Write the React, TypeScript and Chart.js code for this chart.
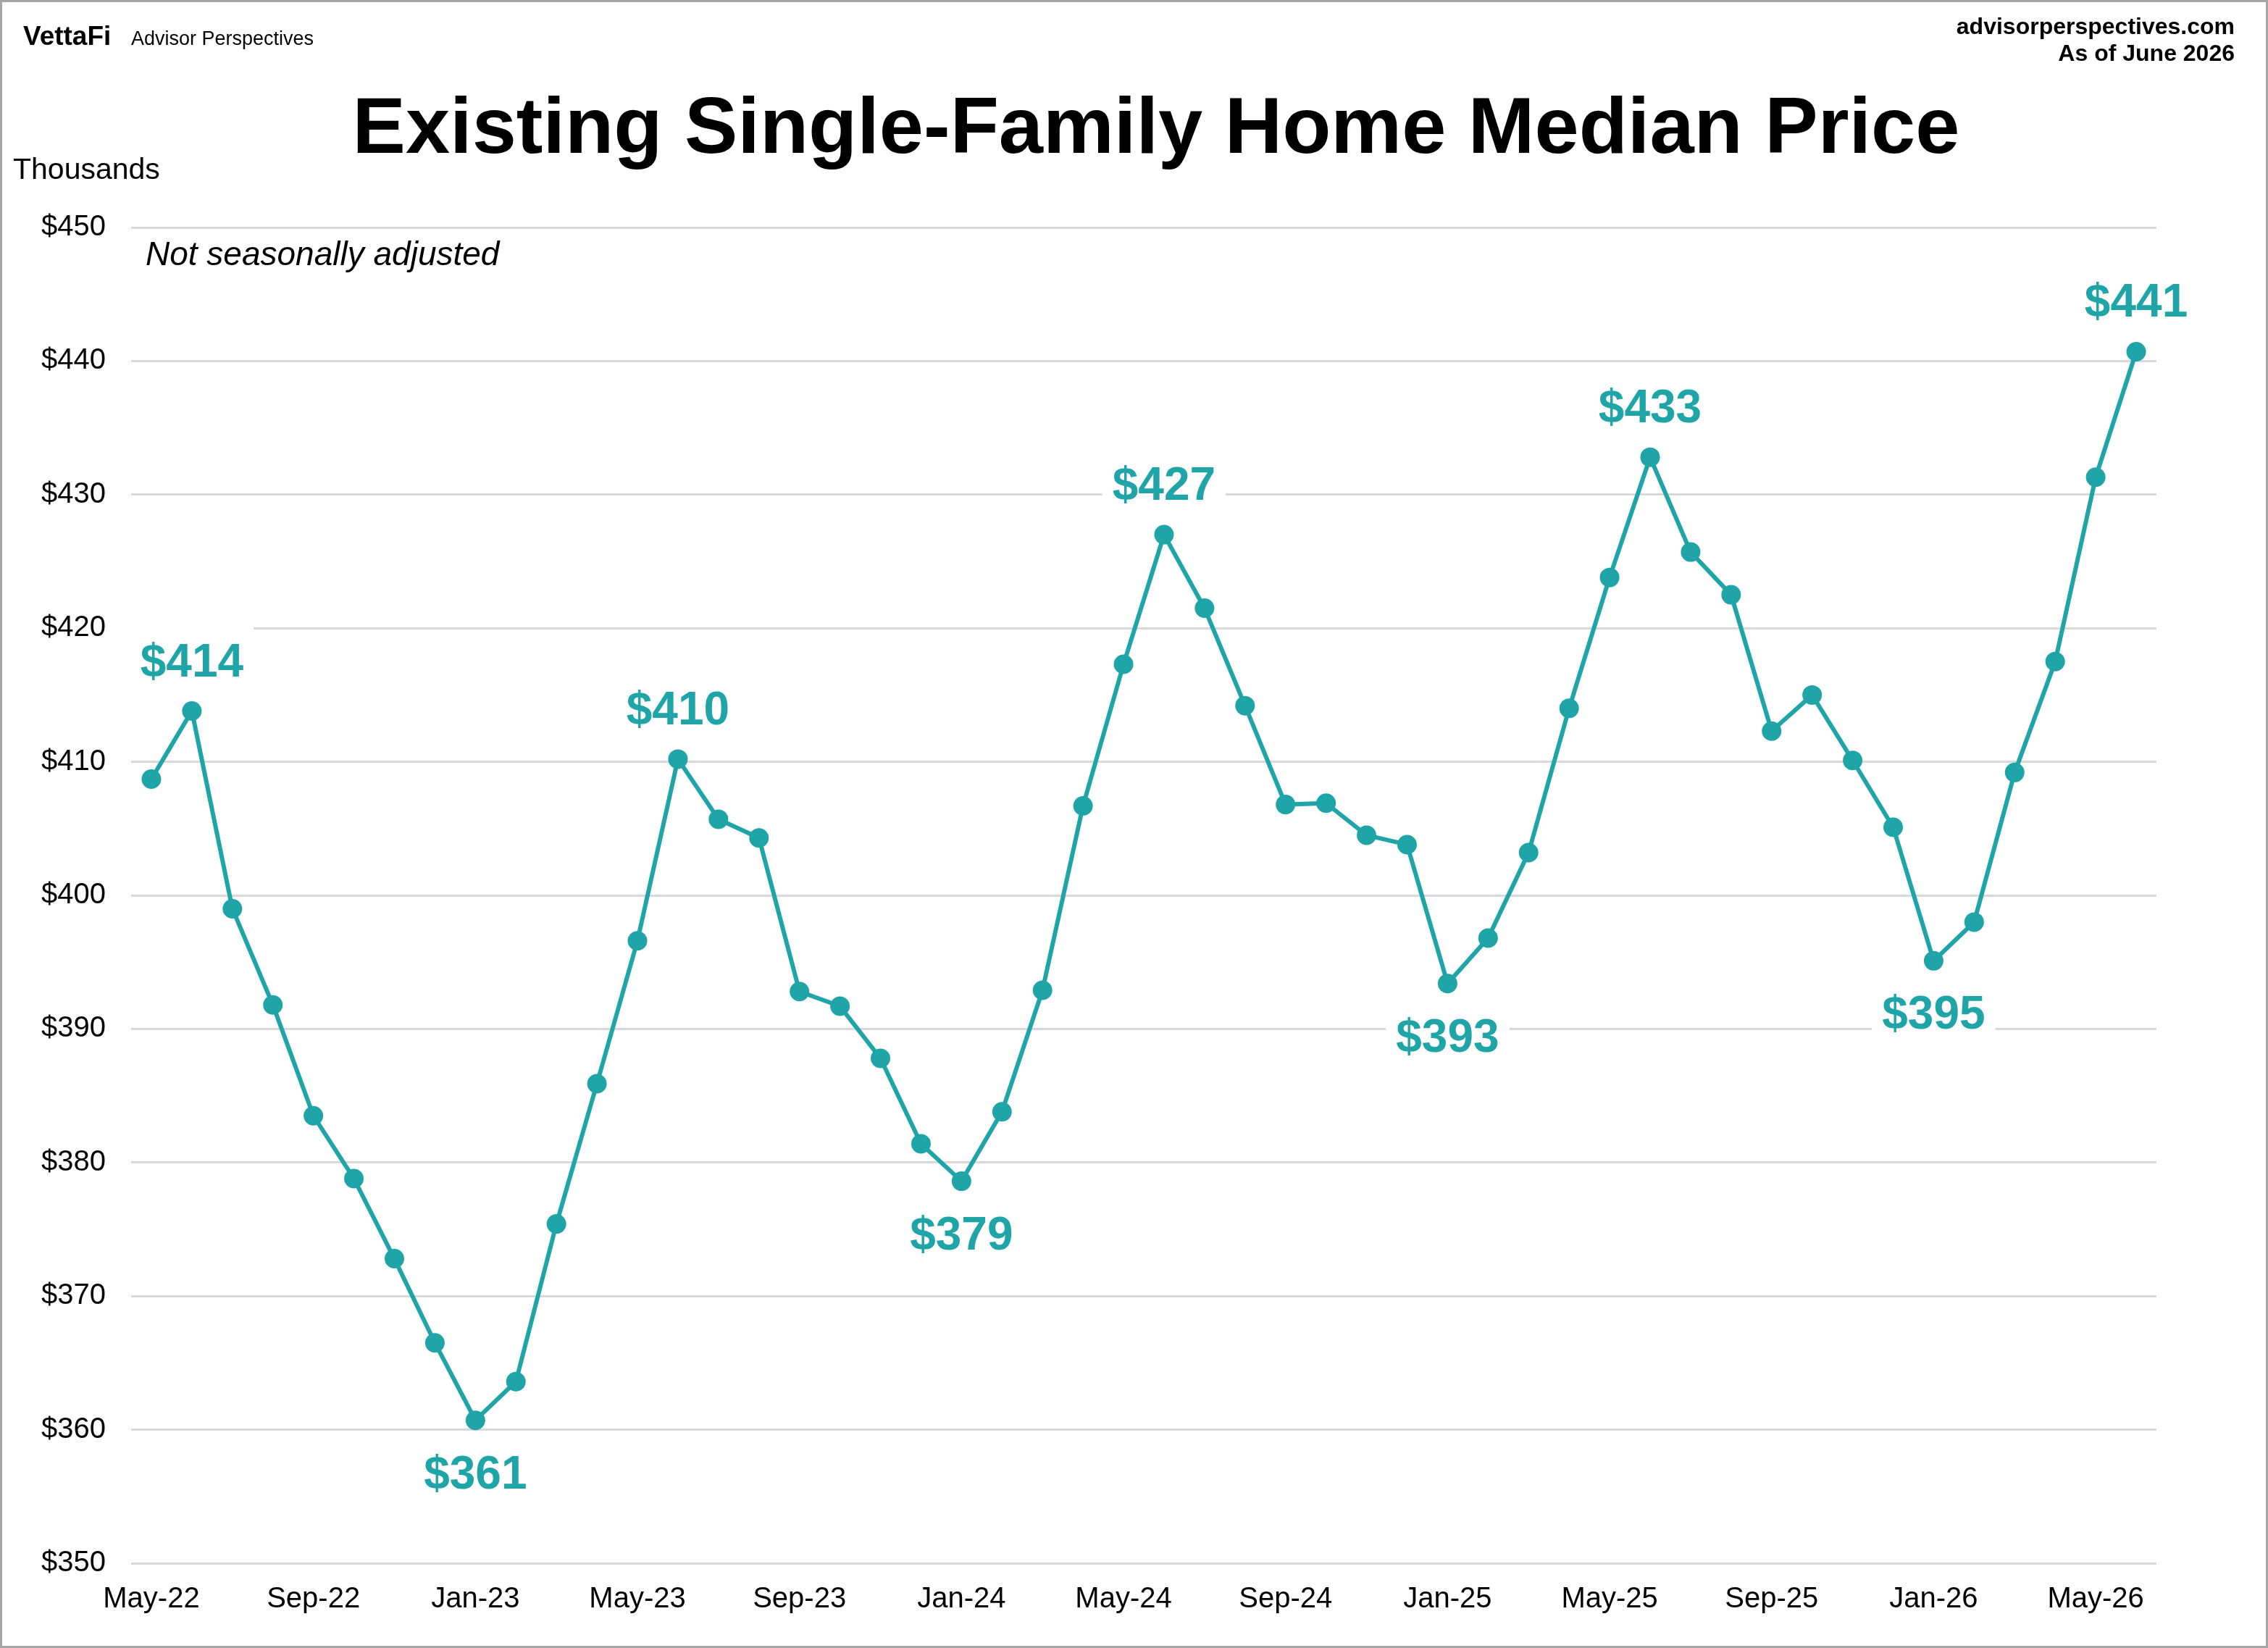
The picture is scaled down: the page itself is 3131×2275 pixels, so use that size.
import React, { useEffect, useRef } from "react";
import { Chart, registerables } from "chart.js";

Chart.register(...registerables);

const months = [
  "May-22", "Jun-22", "Jul-22", "Aug-22", "Sep-22", "Oct-22", "Nov-22", "Dec-22",
  "Jan-23", "Feb-23", "Mar-23", "Apr-23", "May-23", "Jun-23", "Jul-23", "Aug-23",
  "Sep-23", "Oct-23", "Nov-23", "Dec-23", "Jan-24", "Feb-24", "Mar-24", "Apr-24",
  "May-24", "Jun-24", "Jul-24", "Aug-24", "Sep-24", "Oct-24", "Nov-24", "Dec-24",
  "Jan-25", "Feb-25", "Mar-25", "Apr-25", "May-25", "Jun-25", "Jul-25", "Aug-25",
  "Sep-25", "Oct-25", "Nov-25", "Dec-25", "Jan-26", "Feb-26", "Mar-26", "Apr-26",
  "May-26", "Jun-26",
];

const prices = [
  408.7, 413.8, 399.0, 391.8, 383.5, 378.8, 372.8, 366.5,
  360.7, 363.6, 375.4, 385.9, 396.6, 410.2, 405.7, 404.3,
  392.8, 391.7, 387.8, 381.4, 378.6, 383.8, 392.9, 406.7,
  417.3, 427.0, 421.5, 414.2, 406.8, 406.9, 404.5, 403.8,
  393.4, 396.8, 403.2, 414.0, 423.8, 432.8, 425.7, 422.5,
  412.3, 415.0, 410.1, 405.1, 395.1, 398.0, 409.2, 417.5,
  431.3, 440.7,
];

const labeledIdx = [1, 8, 13, 20, 25, 32, 37, 44, 49];
const labeledSide = ["above", "below", "above", "below", "above", "below", "above", "below", "above"];

const yMin = 350;
const yMax = 450;
const yStep = 10;

const TEAL = "#1FA5A8";
const FONT = "'Liberation Sans', Arial, Helvetica, sans-serif";

export default function App() {
  const ref = useRef<HTMLCanvasElement>(null);

  useEffect(() => {
    const canvas = ref.current!;

    const textPlugin = {
      id: "texts",
      beforeDatasetsDraw(chart: any) {
        const ctx = chart.ctx;
        const xs = chart.scales.x;
        const ys = chart.scales.y;
        ctx.save();
        ctx.font = `bold 64px ${FONT}`;
        labeledIdx.forEach((i, k) => {
          const px = xs.getPixelForValue(i);
          const py = ys.getPixelForValue(prices[i]);
          const t = "$" + Math.round(prices[i]);
          const w = ctx.measureText(t).width;
          const base = labeledSide[k] === "above" ? py - 48 : py + 94;
          ctx.fillStyle = "#ffffff";
          ctx.fillRect(px - w / 2 - 14, base - 68, w + 28, 80);
        });
        ctx.restore();
      },
      afterDatasetsDraw(chart: any) {
        const ctx = chart.ctx;
        const xs = chart.scales.x;
        const ys = chart.scales.y;
        ctx.save();
        ctx.font = `bold 64px ${FONT}`;
        ctx.fillStyle = TEAL;
        ctx.textAlign = "center";
        ctx.textBaseline = "alphabetic";
        labeledIdx.forEach((i, k) => {
          const px = xs.getPixelForValue(i);
          const py = ys.getPixelForValue(prices[i]);
          const t = "$" + Math.round(prices[i]);
          const base = labeledSide[k] === "above" ? py - 48 : py + 94;
          ctx.fillText(t, px, base);
        });
        ctx.restore();
      },
      afterDraw(chart: any) {
        const ctx = chart.ctx;
        ctx.save();
        ctx.fillStyle = "#000";
        ctx.textBaseline = "alphabetic";
        ctx.textAlign = "center";
        ctx.font = `bold 110px ${FONT}`;
        ctx.fillText("Existing Single-Family Home Median Price", 1596, 211);

        ctx.textAlign = "left";
        ctx.font = `bold 37px ${FONT}`;
        ctx.fillText("VettaFi", 32, 62);
        ctx.font = `27px ${FONT}`;
        ctx.fillText("Advisor Perspectives", 181, 62);

        ctx.textAlign = "right";
        ctx.font = `bold 32px ${FONT}`;
        ctx.fillText("advisorperspectives.com", 3085, 47);
        ctx.fillText("As of June 2026", 3085, 84);

        ctx.textAlign = "left";
        ctx.font = `41px ${FONT}`;
        ctx.fillText("Thousands", 18, 247);
        ctx.font = `italic 46px ${FONT}`;
        ctx.fillText("Not seasonally adjusted", 201, 366);
        ctx.restore();
      },
    };

    const chart = new Chart(canvas, {
      type: "line",
      data: {
        labels: months,
        datasets: [
          {
            data: prices,
            borderColor: TEAL,
            backgroundColor: TEAL,
            borderWidth: 6,
            pointRadius: 13.5,
            pointBorderWidth: 0,
            pointBackgroundColor: TEAL,
            tension: 0,
          },
        ],
      },
      options: {
        responsive: false,
        animation: false,
        devicePixelRatio: 1,
        layout: { padding: { top: 314, left: 0, right: 154, bottom: 0 } },
        plugins: {
          legend: { display: false },
          tooltip: { enabled: false },
          title: { display: false },
        },
        scales: {
          x: {
            type: "category",
            offset: true,
            grid: { display: false, drawTicks: false },
            border: { display: false },
            ticks: {
              autoSkip: false,
              maxRotation: 0,
              minRotation: 0,
              padding: 26,
              color: "#000",
              font: { family: FONT, size: 40 },
              callback: (_v: any, i: number) => (i % 4 === 0 ? months[i] : ""),
            },
            afterFit: (s: any) => {
              s.height = 117;
            },
          },
          y: {
            min: yMin,
            max: yMax,
            grid: { color: "#D9D9D9", lineWidth: 3, drawTicks: false },
            border: { display: false },
            ticks: {
              stepSize: yStep,
              padding: 35,
              color: "#000",
              font: { family: FONT, size: 40 },
              callback: (v: any) => "$" + v,
            },
            afterFit: (s: any) => {
              s.width = 181;
            },
          },
        },
      },
      plugins: [textPlugin],
    });

    return () => chart.destroy();
  }, []);

  return (
    <div style={{ position: "fixed", left: 0, top: 0, width: 3131, height: 2275, background: "#fff" }}>
      <canvas ref={ref} width={3131} height={2275} style={{ position: "absolute", left: 0, top: 0 }} />
      <div
        style={{
          position: "absolute",
          left: 0,
          top: 0,
          width: 3131,
          height: 2275,
          boxSizing: "border-box",
          border: "3px solid #A6A6A6",
          pointerEvents: "none",
        }}
      />
    </div>
  );
}
